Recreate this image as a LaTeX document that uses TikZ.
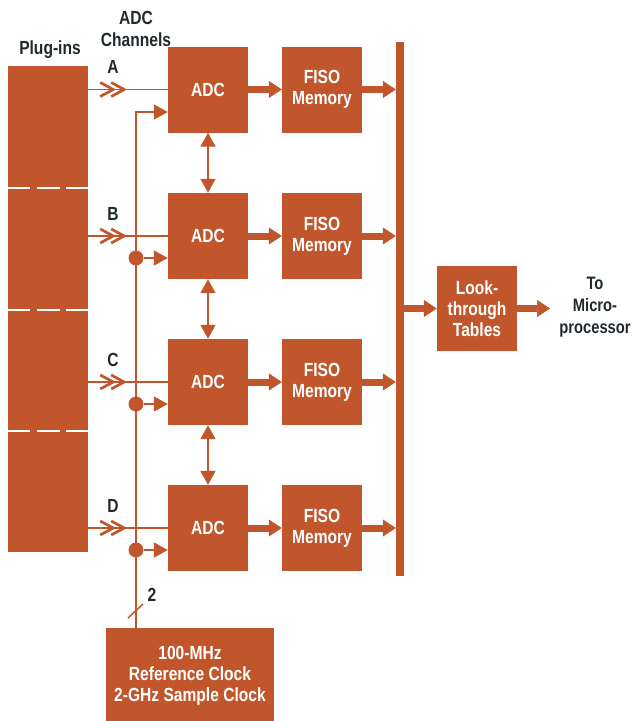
\documentclass[tikz,border=0pt]{standalone}
\usepackage{fontspec}
\setmainfont{Liberation Sans}[FakeStretch=0.82]
\usetikzlibrary{arrows.meta,calc}
\definecolor{rust}{RGB}{193,86,44}
\definecolor{ink}{RGB}{32,42,44}
\begin{document}
\begin{tikzpicture}[x=1pt,y=-1pt,
  box/.style={fill=rust, text=white, font=\bfseries\fontsize{19}{21}\selectfont, align=center, inner sep=0pt, minimum width=80pt, minimum height=86pt},
  lbl/.style={text=ink, font=\bfseries\fontsize{19}{21.5}\selectfont, align=center, inner sep=0pt},
  wire/.style={draw=rust, line width=1.5pt},
  clk/.style={wire, -{Triangle[length=14pt,width=15pt]}},
  big/.style={draw=rust, line width=7pt, -{Triangle[length=13pt,width=17pt,line width=0.5pt]}},
  dbl/.style={draw=rust, line width=1.8pt, {Triangle[length=14pt,width=15pt]}-{Triangle[length=14pt,width=15pt]}},
  chev/.style={draw=rust, line width=2.7pt},
  dot/.style={circle, fill=rust, inner sep=0pt, minimum size=15pt}
]
\useasboundingbox (0,0) rectangle (632,721);

% plug-ins column
\node[fill=rust, minimum width=80pt, minimum height=486pt, inner sep=0pt] (plug) at (48,309) {};
\foreach \yy in {188,310,431}
  \draw[white, line width=2pt] (8,\yy) -- (30,\yy) (37,\yy) -- (60,\yy) (66,\yy) -- (88,\yy);

% bus bar
\node[fill=rust, minimum width=8pt, minimum height=534pt, inner sep=0pt] (bus) at (400,309) {};

% labels
\node[lbl] (lplug) at (50,50) {Plug-ins};
\node[lbl] (lchan) at (136,29) {ADC\\Channels};

% channels
\foreach \i/\y/\l in {1/89.5/A, 2/236/B, 3/382/C, 4/528/D}{
  \node[box] (adc\i) at (208,\y) {ADC};
  \node[box] (fiso\i) at (322,\y) {FISO\\Memory};
  \node[lbl] (ch\i) at (113,\y-22.5) {\l};
  \coordinate (c\i) at (plug.east |- adc\i.west);
  \draw[wire] (c\i) -- (adc\i.west);
  \draw[chev] ($(c\i)+(12,-7)$) -- ($(c\i)+(25,0)$) -- ($(c\i)+(12,7)$);
  \draw[chev] ($(c\i)+(23,-7)$) -- ($(c\i)+(36,0)$) -- ($(c\i)+(23,7)$);
  \draw[big] (adc\i.east) -- (fiso\i.west);
  \draw[big] (fiso\i.east) -- (fiso\i.east -| bus.west);
}

% vertical double arrows
\foreach \i/\j in {1/2,2/3,3/4}
  \draw[dbl] (adc\i.south) -- (adc\j.north);

% clock box and distribution
\node[box, minimum width=168pt, minimum height=96pt] (clock) at (190,676)
  {100-MHz\\Reference Clock\\2-GHz Sample Clock};
\coordinate (kx) at (136,112);
\draw[clk] (kx |- clock.north) -- (kx) -- (kx -| adc1.west);
\foreach \i/\y in {2/258,3/404,4/550}{
  \node[dot] (d\i) at (136,\y) {};
  \draw[clk] (d\i) -- (d\i -| adc\i.west);
}
\draw[wire] (128,618) -- (143,604);
\node[lbl] (two) at (152,595) {2};

% look-through tables
\node[box, minimum height=85pt] (look) at (477,308.5) {Look-\\through\\Tables};
\draw[big] (bus.east |- look.west) -- (look.west);
\coordinate (out) at (550,308.5);
\draw[big] (look.east) -- (out);
\node[lbl, font=\bfseries\fontsize{18}{22}\selectfont] (micro) at (595,307.5) {To\\Micro-\\processor};
\end{tikzpicture}
\end{document}
